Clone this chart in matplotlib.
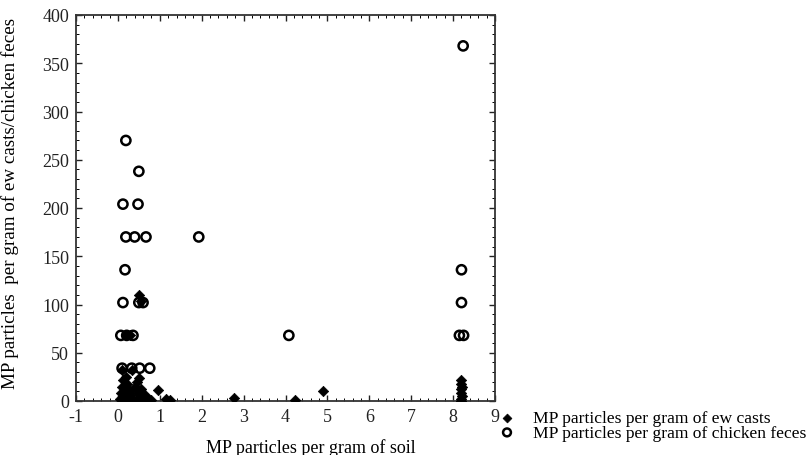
import matplotlib
matplotlib.use("Agg")
import matplotlib.pyplot as plt
from matplotlib.ticker import MultipleLocator

plt.rcParams['font.family'] = ['Liberation Serif', 'DejaVu Serif']
plt.rcParams['axes.unicode_minus'] = False

# MP particles per gram of ew casts (x: per gram of soil)
ew_x = [0.05, 0.08, 0.10, 0.12, 0.15, 0.18, 0.20, 0.22, 0.25, 0.28, 0.30, 0.35,
        0.40, 0.45, 0.48, 0.50, 0.52, 0.55, 0.60, 0.65, 0.70, 0.78, 0.95, 1.15,
        1.25, 2.78, 4.22, 4.90,
        8.20, 8.20, 8.22, 8.18, 8.20, 8.22, 8.18, 8.20,
        0.10, 0.33, 0.20, 0.28, 0.50, 0.55, 0.12, 0.45]
ew_y = [2, 8, 15, 22, 5, 12, 25, 18, 3, 10, 6, 2,
        14, 20, 8, 24, 4, 12, 2, 6, 3, 1, 11, 2,
        1, 3, 1, 10,
        22, 18, 15, 12, 8, 5, 2, 0,
        32, 32, 68, 68, 110, 104, 0, 0]

# MP particles per gram of chicken feces
ch_x = [0.19, 0.50, 0.12, 0.48, 0.19, 0.40, 0.67, 1.93, 0.17, 0.12, 0.50, 0.60,
        0.07, 0.21, 0.36, 0.10, 0.33, 0.52, 0.76, 4.08, 8.24, 8.20, 8.20, 8.15, 8.25]
ch_y = [270, 238, 204, 204, 170, 170, 170, 170, 136, 102, 102, 102,
        68, 68, 68, 34, 34, 34, 34, 68, 368, 136, 102, 68, 68]

x_ticks = list(range(-1, 10))
y_ticks = list(range(0, 401, 50))

fig = plt.figure(figsize=(8.08, 4.56), dpi=100)
ax = fig.add_axes([76/808, 1 - 402/456, (495 - 76)/808, (402 - 16)/456])

ax.scatter(ew_x, ew_y, marker='D', s=28, c='black', edgecolors='black',
           linewidths=0.5, zorder=3, label='MP particles per gram of ew casts')
ax.scatter(ch_x, ch_y, marker='o', s=44, facecolors='none', edgecolors='black',
           linewidths=1.8, zorder=4, label='MP particles per gram of chicken feces')

ax.set_xlim(-1, 9)
ax.set_ylim(0, 400)
ax.set_xticks(x_ticks)
ax.set_yticks(y_ticks)
ax.xaxis.set_minor_locator(MultipleLocator(0.2))
ax.yaxis.set_minor_locator(MultipleLocator(10))
ax.tick_params(which='major', direction='in', length=4, width=1, top=True, right=True,
               labelsize=13, colors='#222222', pad=5)
ax.tick_params(which='minor', direction='in', length=2, width=0.7, top=True, right=True)
for sp in ax.spines.values():
    sp.set_linewidth(1.3)
    sp.set_color('#333333')

ax.set_xlabel('MP particles per gram of soil', fontsize=13)
ax.xaxis.set_label_coords((311 - 76) / (495 - 76), -0.095)
ax.set_ylabel('MP particles  per gram of ew casts/chicken feces', fontsize=13.7)
ax.yaxis.set_label_coords(-(76 - 19) / (495 - 76), (402 - 203) / 386)

handles, labels = ax.get_legend_handles_labels()
fig.legend(handles, labels, loc='lower left', bbox_to_anchor=(500/808, 14/456),
           frameon=False, fontsize=12.6, handletextpad=1.1, labelspacing=-0.08,
           borderaxespad=0, borderpad=0, handlelength=0.8, markerscale=0.85)

fig.savefig('out.png', dpi=100)
